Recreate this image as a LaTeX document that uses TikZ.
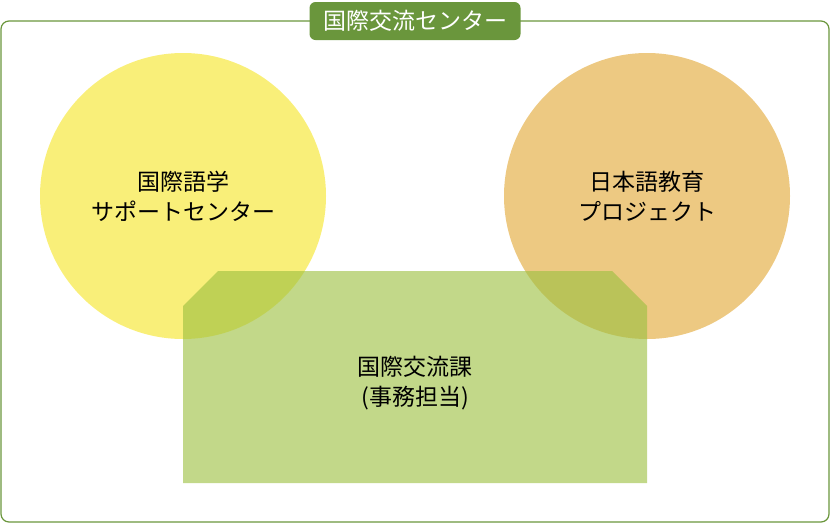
\documentclass[tikz,border=0pt]{standalone}
\usepackage{fontspec}
\setmainfont{Noto Sans CJK JP}
\usepackage{tikz}
\usetikzlibrary{positioning}
\definecolor{centerGreen}{HTML}{6A963C}
\definecolor{langYellow}{HTML}{F9EF79}
\definecolor{nihongoOrange}{HTML}{EDC982}
\definecolor{officeGreen}{HTML}{9CC040}

\begin{document}
\begin{tikzpicture}[x=1pt, y=-1pt, font=\fontsize{23}{30}\selectfont,
    unit/.style={circle, minimum size=286pt, inner sep=0pt, align=center, text=black},
    titlebox/.style={fill=centerGreen, text=white, rounded corners=6pt, minimum width=211pt, minimum height=38pt, inner sep=0pt}]
  \useasboundingbox (0,0) rectangle (830,523);

  % Outer frame
  \draw[centerGreen, line width=1.2pt, rounded corners=8pt] (1,21) rectangle (829,522);
  \node[titlebox] (center) at (415,21) {国際交流センター};

  % Circles
  \node[unit, fill=langYellow] (gogaku) at (183,196) {国際語学\\サポートセンター};
  \node[unit, fill=nihongoOrange] (nihongo) at (647,196) {日本語教育\\プロジェクト};

  % Office block
  \fill[officeGreen, opacity=0.62] (218,271) -- (612,271) -- (647,306) -- (647,483) -- (183,483) -- (183,306) -- cycle;
  \node[align=center] (kouryu) at (415,383) {国際交流課\\(事務担当)};
\end{tikzpicture}
\end{document}
